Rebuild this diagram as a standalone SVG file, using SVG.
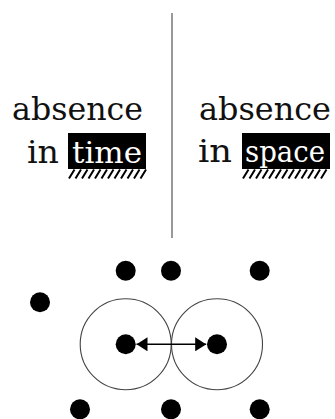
<svg xmlns="http://www.w3.org/2000/svg" width="335" height="419" viewBox="0 0 335 419">
<style>
.t{font-family:"DejaVu Serif","Liberation Serif",serif;font-size:32px;fill:#111}
.w{fill:#fff;font-size:30px}
.dot{fill:#000}
.ring{fill:none;stroke:#444;stroke-width:1.1}
.hatch{stroke:#000;stroke-width:2;fill:none}
</style>
<defs>
<marker id="ah" viewBox="0 0 11 14" refX="11" refY="7" markerWidth="11" markerHeight="14" markerUnits="userSpaceOnUse" orient="auto-start-reverse">
<path d="M0,0 L11,7 L0,14 z" fill="#000"/>
</marker>
</defs>
<rect width="335" height="419" fill="#fff"/>
<g id="divider"><line x1="172" y1="13" x2="172" y2="238" stroke="#555" stroke-width="1.2"/></g>
<g id="label-time">
<text class="t" x="12" y="120" textLength="131" lengthAdjust="spacingAndGlyphs">absence</text>
<text class="t" x="27" y="163" textLength="32" lengthAdjust="spacingAndGlyphs">in</text>
<rect x="68" y="133" width="78" height="36" fill="#000"/>
<text class="t w" x="72" y="163" textLength="70" lengthAdjust="spacingAndGlyphs">time</text>
<path class="hatch" d="M69,178.5l5.5,-9 M75.5,178.5l5.5,-9 M82,178.5l5.5,-9 M88.5,178.5l5.5,-9 M95,178.5l5.5,-9 M101.5,178.5l5.5,-9 M108,178.5l5.5,-9 M114.5,178.5l5.5,-9 M121,178.5l5.5,-9 M127.5,178.5l5.5,-9 M134,178.5l5.5,-9 M140.5,178.5l5.5,-9"/>
</g>
<g id="label-space">
<text class="t" x="199" y="120" textLength="132" lengthAdjust="spacingAndGlyphs">absence</text>
<text class="t" x="198" y="162" textLength="34" lengthAdjust="spacingAndGlyphs">in</text>
<rect x="242" y="133" width="88" height="36" fill="#000"/>
<text class="t w" x="245" y="161.5" textLength="80" lengthAdjust="spacingAndGlyphs">space</text>
<path class="hatch" d="M243,178.5l5.5,-9 M249.5,178.5l5.5,-9 M256,178.5l5.5,-9 M262.5,178.5l5.5,-9 M269,178.5l5.5,-9 M275.5,178.5l5.5,-9 M282,178.5l5.5,-9 M288.5,178.5l5.5,-9 M295,178.5l5.5,-9 M301.5,178.5l5.5,-9 M308,178.5l5.5,-9 M314.5,178.5l5.5,-9 M321,178.5l5.5,-9"/>
</g>
<g id="ring-left"><circle class="ring" cx="125.7" cy="344.3" r="45.5"/></g>
<g id="ring-right"><circle class="ring" cx="217" cy="344.3" r="45.5"/></g>
<g id="dot-t1"><circle class="dot" cx="125.7" cy="270.7" r="10"/></g>
<g id="dot-t2"><circle class="dot" cx="171" cy="270.7" r="10"/></g>
<g id="dot-t3"><circle class="dot" cx="259.7" cy="270.7" r="10"/></g>
<g id="dot-l"><circle class="dot" cx="40" cy="302.3" r="10"/></g>
<g id="dot-c1"><circle class="dot" cx="125.7" cy="344.3" r="10"/></g>
<g id="dot-c2"><circle class="dot" cx="217" cy="344.3" r="10"/></g>
<g id="dot-b1"><circle class="dot" cx="80" cy="409.3" r="10"/></g>
<g id="dot-b2"><circle class="dot" cx="171" cy="409.3" r="10"/></g>
<g id="dot-b3"><circle class="dot" cx="259.7" cy="409.3" r="10"/></g>
<g id="connectors">
<line x1="136.5" y1="344.3" x2="206.2" y2="344.3" stroke="#000" stroke-width="1.5" marker-start="url(#ah)" marker-end="url(#ah)"/>
</g>
</svg>
